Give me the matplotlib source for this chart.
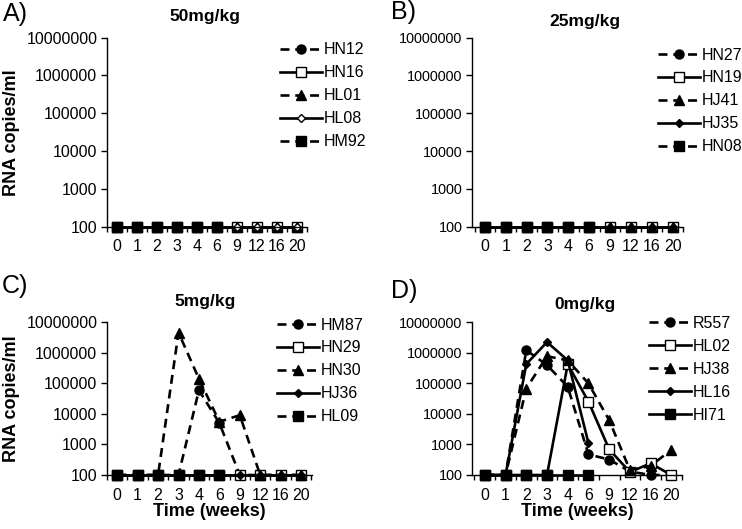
import numpy as np
import matplotlib
matplotlib.use("Agg")
import matplotlib.pyplot as plt
from matplotlib.ticker import FixedLocator, FixedFormatter

plt.rcParams['font.family'] = ['Liberation Sans', 'DejaVu Sans']

weeks = ['0', '1', '2', '3', '4', '6', '9', '12', '16', '20']
nan = float('nan')

# Panel A: 50mg/kg
a_names = ['HN12', 'HN16', 'HL01', 'HL08', 'HM92']
a_HN12 = [100, 100, 100, 100, 100, 100, 100, 100, 100, 100]
a_HN16 = [100, 100, 100, 100, 100, 100, 100, 100, 100, 100]
a_HL01 = [100, 100, 100, 100, 100, 100, 100, 100, 100, 100]
a_HL08 = [100, 100, 100, 100, 100, 100, 100, 100, 100, 100]
a_HM92 = [100, 100, 100, 100, 100, 100, nan, nan, nan, nan]

# Panel B: 25mg/kg
b_names = ['HN27', 'HN19', 'HJ41', 'HJ35', 'HN08']
b_HN27 = [100, 100, 100, 100, 100, 100, 100, 100, 100, 100]
b_HN19 = [100, 100, 100, 100, 100, 100, 100, 100, 100, 100]
b_HJ41 = [100, 100, 100, 100, 100, 100, 100, 100, 100, 100]
b_HJ35 = [100, 100, 100, 100, 100, 100, 100, 100, 100, 100]
b_HN08 = [100, 100, 100, 100, 100, 100, nan, nan, nan, nan]

# Panel C: 5mg/kg
c_names = ['HM87', 'HN29', 'HN30', 'HJ36', 'HL09']
c_HM87 = [100, 100, 100, 100, 59000, 5000, 100, 100, 100, 100]
c_HN29 = [100, 100, 100, 100, 100, 100, 100, 100, 100, 100]
c_HN30 = [100, 100, 100, 4500000, 140000, 5500, 9000, 100, 100, 100]
c_HJ36 = [100, 100, 100, 100, 100, 100, 100, 100, 100, 100]
c_HL09 = [100, 100, 100, 100, 100, 100, nan, nan, nan, nan]

# Panel D: 0mg/kg
d_names = ['R557', 'HL02', 'HJ38', 'HL16', 'HI71']
d_R557 = [100, 100, 1200000, 390000, 76000, 470, 320, 130, 100, 100]
d_HL02 = [100, 100, 100, 100, 420000, 25000, 690, 125, 240, 100]
d_HJ38 = [100, 100, 67000, 760000, 560000, 98000, 6200, 145, 200, 660]
d_HL16 = [100, 100, 420000, 2200000, 560000, 1100, nan, nan, nan, nan]
d_HI71 = [100, 100, 100, 100, 100, 100, nan, nan, nan, nan]

panels = [
    dict(letter='A)', title='50mg/kg', names=a_names,
         data=[a_HN12, a_HN16, a_HL01, a_HL08, a_HM92], open_diamond=True, last_solid=False,
         box=(107, 37.7, 306.7, 226.7), xlim=(-0.45, 9.42), ylab_size=11.5,
         letter_xy=(3, 13.5), title_xy=(205, 16.7), leg_xy=(280, 42.5), ylabel=True, xlabel=False),
    dict(letter='B)', title='25mg/kg', names=b_names,
         data=[b_HN27, b_HN19, b_HJ41, b_HJ35, b_HN08], open_diamond=False, last_solid=False,
         box=(472, 37.7, 683, 226.7), xlim=(-0.62, 9.46), ylab_size=10.4,
         letter_xy=(391, 12), title_xy=(585, 21.7), leg_xy=(658, 47.5), ylabel=False, xlabel=False),
    dict(letter='C)', title='5mg/kg', names=c_names,
         data=[c_HM87, c_HN29, c_HN30, c_HJ36, c_HL09], open_diamond=False, last_solid=False,
         box=(107, 322, 311.7, 475), xlim=(-0.42, 9.52), ylab_size=11.5,
         letter_xy=(2, 286), title_xy=(205, 301.7), leg_xy=(277, 317.5), ylabel=True, xlabel=True),
    dict(letter='D)', title='0mg/kg', names=d_names,
         data=[d_R557, d_HL02, d_HJ38, d_HL16, d_HI71], open_diamond=False, last_solid=True,
         box=(472, 322, 681.7, 475), xlim=(-0.62, 9.43), ylab_size=10.4,
         letter_xy=(391, 291), title_xy=(585, 305), leg_xy=(649, 316), ylabel=False, xlabel=True),
]

W, H = 742, 529
fig = plt.figure(figsize=(W / 100, H / 100), dpi=100)
fig.patch.set_facecolor('white')

DASH = (3.4, 2.2)
x = np.arange(len(weeks))

for p in panels:
    l, t, r, b = p['box']
    ax = fig.add_axes([l / W, 1 - b / H, (r - l) / W, (b - t) / H])
    styles = [
        dict(ls='--', marker='o', mfc='black', ms=6.5),
        dict(ls='-', marker='s', mfc='white', ms=7),
        dict(ls='--', marker='^', mfc='black', ms=7.5),
        dict(ls='-', marker='D', mfc='white' if p['open_diamond'] else 'black', ms=4.5),
        dict(ls='-' if p['last_solid'] else '--', marker='s', mfc='black', ms=7.5),
    ]
    handles = []
    for name, vals, st in zip(p['names'], p['data'], styles):
        line, = ax.plot(x, vals, color='black', lw=1.9, ls=st['ls'], marker=st['marker'],
                        mfc=st['mfc'], mec='black', mew=1.0, ms=st['ms'], clip_on=False,
                        label=name)
        if st['ls'] == '--':
            line.set_dashes(DASH)
        handles.append(line)

    ax.set_yscale('log')
    ax.set_ylim(100, 1e7)
    ax.set_xlim(*p['xlim'])
    yt = [1e2, 1e3, 1e4, 1e5, 1e6, 1e7]
    ax.yaxis.set_major_locator(FixedLocator(yt))
    ax.yaxis.set_major_formatter(FixedFormatter(['100', '1000', '10000', '100000', '1000000', '10000000']))
    ax.yaxis.set_minor_locator(FixedLocator([]))
    ax.set_xticks(x)
    ax.set_xticklabels(weeks)
    ax.set_xticks(np.arange(-0.5, 9.6, 1.0), minor=True)
    ax.tick_params(axis='x', which='major', length=0, pad=9, labelsize=11.5)
    ax.tick_params(axis='x', which='minor', length=3.5, width=1.0, direction='out')
    ax.tick_params(axis='y', which='major', length=4, width=1.0, pad=3,
                   labelsize=p['ylab_size'], direction='out')
    for s in ['top', 'right']:
        ax.spines[s].set_visible(False)
    for s in ['left', 'bottom']:
        ax.spines[s].set_linewidth(1.0)
    ax.patch.set_alpha(0)

    lx, ly = p['letter_xy']
    fig.text(lx / W, 1 - ly / H, p['letter'], fontsize=18, ha='left', va='center')
    tx, ty = p['title_xy']
    fig.text(tx / W, 1 - ty / H, p['title'], fontsize=12.5, fontweight='bold', ha='center', va='center')
    if p['ylabel']:
        fig.text(12 / W, 1 - ((t + b) / 2) / H, 'RNA copies/ml', fontsize=13, fontweight='bold',
                 rotation=90, ha='center', va='center')
    if p['xlabel']:
        fig.text(((l + r) / 2) / W, 1 - 512 / H, 'Time (weeks)', fontsize=13, fontweight='bold',
                 ha='center', va='center')
    gx, gy = p['leg_xy']
    fig.legend(handles=handles, loc='upper left', bbox_to_anchor=(gx / W, 1 - gy / H),
               bbox_transform=fig.transFigure, frameon=False, borderpad=0, borderaxespad=0,
               handlelength=2.6, handletextpad=0.15, labelspacing=0.5, fontsize=11.5,
               numpoints=1)

fig.savefig('out.png', dpi=100, facecolor='white')
